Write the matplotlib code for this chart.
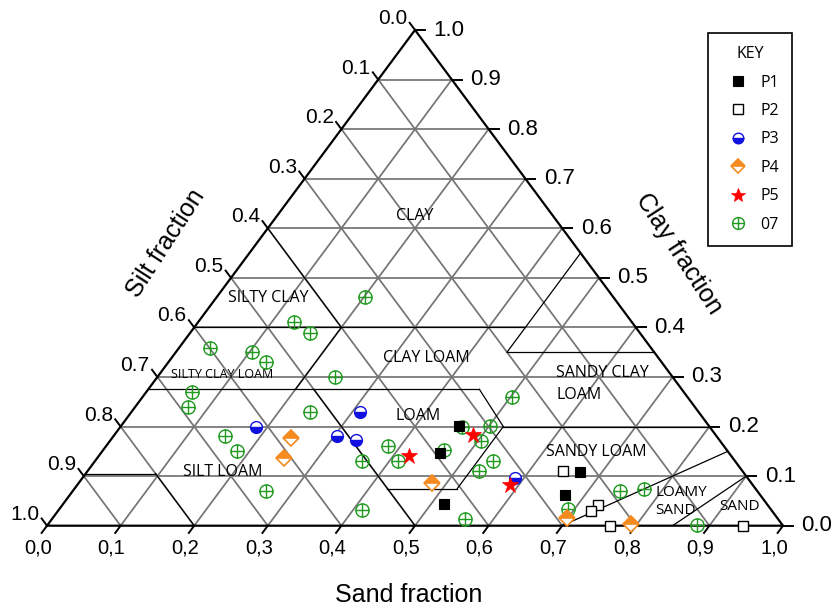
import numpy as np
import matplotlib
matplotlib.use("Agg")
import matplotlib.pyplot as plt
from matplotlib.path import Path
from matplotlib.lines import Line2D

# ---------------- data (sand fraction, clay fraction; silt = 1 - sand - clay) -------------
p1_sand = [0.459, 0.461, 0.518, 0.670, 0.673]
p1_clay = [0.201, 0.146, 0.044, 0.108, 0.061]

p2_sand = [0.646, 0.728, 0.724, 0.765, 0.946]
p2_clay = [0.110, 0.041, 0.030, 0.000, 0.000]

p3_sand = [0.184, 0.304, 0.334, 0.310, 0.588]
p3_clay = [0.200, 0.180, 0.173, 0.230, 0.096]

p4_sand = [0.243, 0.253, 0.480, 0.699, 0.791]
p4_clay = [0.176, 0.137, 0.087, 0.015, 0.004]

p5_sand = [0.421, 0.488, 0.588]
p5_clay = [0.141, 0.182, 0.082]

s07_sand = [0.202, 0.131, 0.164, 0.042, 0.103, 0.133, 0.242, 0.062, 0.072, 0.242,
            0.151, 0.182, 0.262, 0.383, 0.362, 0.412, 0.464, 0.502, 0.504, 0.502,
            0.463, 0.541, 0.532, 0.412, 0.562, 0.692, 0.744, 0.773, 0.882]
s07_clay = [0.461, 0.410, 0.388, 0.359, 0.350, 0.330, 0.299, 0.270, 0.240, 0.230,
            0.181, 0.151, 0.071, 0.161, 0.131, 0.131, 0.200, 0.201, 0.170, 0.259,
            0.153, 0.131, 0.110, 0.032, 0.013, 0.033, 0.069, 0.075, 0.001]

ticks = [round(0.1 * i, 1) for i in range(11)]
bottom_labels = [f"{t:.1f}".replace(".", ",") for t in ticks]
side_labels = [f"{t:.1f}" for t in ticks]

# texture class boundaries (sand, clay)
boundaries = [
    [(0.0, 0.40), (0.45, 0.40)],
    [(0.20, 0.40), (0.0, 0.60)],
    [(0.45, 0.35), (0.45, 0.55)],
    [(0.45, 0.35), (0.65, 0.35)],
    [(0.0, 0.275), (0.45, 0.275)],
    [(0.20, 0.275), (0.20, 0.40)],
    [(0.45, 0.275), (0.52, 0.20)],
    [(0.52, 0.20), (0.80, 0.20)],
    [(0.225, 0.275), (0.50, 0.0)],
    [(0.425, 0.075), (0.52, 0.075)],
    [(0.52, 0.075), (0.52, 0.20)],
    [(0.0, 0.105), (0.095, 0.105)],
    [(0.095, 0.105), (0.20, 0.0)],
    [(0.70, 0.0), (0.85, 0.15)],
    [(0.85, 0.0), (0.90, 0.10)],
]

# ---------------- geometry ----------------
W, H = 838, 609
X0, X1, YB, YT = 47.0, 783.0, 525.7, 30.0
PW, PH = X1 - X0, YB - YT


def tern(sand, clay):
    sand = np.asarray(sand, float)
    clay = np.asarray(clay, float)
    return sand + clay / 2.0, clay


def px(x, y):
    """pixel (from top-left) -> data coords"""
    return (x - X0) / PW, (YB - y) / PH


fig = plt.figure(figsize=(W / 100, H / 100), dpi=100)
ax = fig.add_axes([X0 / W, (H - YB) / H, PW / W, PH / H])
ax.set_xlim(0, 1)
ax.set_ylim(0, 1)
ax.axis("off")

grid_kw = dict(color="#747474", lw=1.25, zorder=1, solid_capstyle="butt")
for v in ticks[1:-1]:
    for a, b in [((0, v), (1 - v, v)), ((v, 0), (v, 1 - v)), ((1 - v, 0), (0, 1 - v))]:
        x, y = tern([a[0], b[0]], [a[1], b[1]])
        ax.plot(x, y, **grid_kw)

for seg in boundaries:
    x, y = tern([seg[0][0], seg[1][0]], [seg[0][1], seg[1][1]])
    ax.plot(x, y, color="black", lw=0.9, zorder=2)

# outline
ox, oy = tern([0, 1, 0, 0], [0, 0, 1, 0])
ax.plot(ox, oy, color="black", lw=1.6, zorder=3, solid_joinstyle="miter", clip_on=False)

# ticks and labels
ux, uy = 368.0 / np.hypot(368, 495.7), 495.7 / np.hypot(368, 495.7)
tick_fs_b, tick_fs_l, tick_fs_r = 14.5, 15, 16
tfont = "Liberation Sans"
for v, lb, ls in zip(ticks, bottom_labels, side_labels):
    # bottom (sand)
    bx, by = tern(v, 0)
    ax.plot([bx, bx - ux * 9 / PW], [by, by - uy * 9 / PH], color="black", lw=1.4,
            clip_on=False, zorder=3)
    ax.text(bx - 9 / PW, by - 22.5 / PH, lb, ha="center", va="center",
            fontsize=tick_fs_b, family=tfont)
    # right (clay)
    rx, ry = tern(1 - v, v)
    ax.plot([rx, rx + 10 / PW], [ry, ry], color="black", lw=1.4, clip_on=False, zorder=3)
    ax.text(rx + 18.5 / PW, ry, ls, ha="left", va="center", fontsize=tick_fs_r, family=tfont)
    # left (silt)
    lx, ly = tern(0, 1 - v)
    ax.plot([lx, lx - ux * 9 / PW], [ly, ly + uy * 9 / PH], color="black", lw=1.4,
            clip_on=False, zorder=3)
    ax.text(lx - ux * 13 / PW, ly + uy * 13 / PH + 1 / PH, ls, ha="right", va="center",
            fontsize=tick_fs_l, family=tfont)

# axis titles
ax.text(*px(409, 595), "Sand fraction", ha="center", va="center", fontsize=18, family=tfont)
ax.text(*px(166, 243), "Silt fraction", ha="center", va="center", fontsize=18,
        family=tfont, rotation=57, rotation_mode="anchor")
ax.text(*px(679, 254), "Clay fraction", ha="center", va="center", fontsize=18,
        family=tfont, rotation=-57, rotation_mode="anchor")

# region labels
rfont = "Open Sans"
region_labels = [
    ("CLAY", 415, 216, "center", 11.5),
    ("SILTY CLAY", 268, 298, "center", 11.5),
    ("SILTY CLAY LOAM", 222.5, 375, "center", 9),
    ("CLAY LOAM", 426, 358, "center", 11.5),
    ("LOAM", 418, 416, "center", 11.5),
    ("SANDY CLAY", 556, 373, "left", 11.5),
    ("LOAM", 556, 395, "left", 11.5),
    ("SANDY LOAM", 596.5, 452, "center", 11.5),
    ("LOAMY", 655, 492, "left", 11),
    ("SAND", 655, 510, "left", 11),
    ("SAND", 739, 507, "center", 11),
    ("SILT LOAM", 223, 472, "center", 11.5),
]
for t, x, y, ha, fs in region_labels:
    ax.text(*px(x, y), t, ha=ha, va="center", fontsize=fs, family=rfont, zorder=4)

# ---------------- data markers ----------------
cross = Path([[-1, 0], [1, 0], [0, -1], [0, 1]],
             [Path.MOVETO, Path.LINETO, Path.MOVETO, Path.LINETO])
oplus = Path.make_compound_path(Path.unit_circle(), cross)

orange = "#f58a1f"
blue = "#1010e0"
green = "#1f9a1f"

styles = [
    ("P1", p1_sand, p1_clay, dict(marker="s", ms=7.5, mfc="black", mec="black", mew=0.8)),
    ("P2", p2_sand, p2_clay, dict(marker="s", ms=7.5, mfc="white", mec="black", mew=1.0)),
    ("P3", p3_sand, p3_clay, dict(marker="o", ms=8.5, fillstyle="bottom", mfc=blue,
                                   markerfacecoloralt="white", mec=blue, mew=1.0)),
    ("P4", p4_sand, p4_clay, dict(marker="D", ms=8, fillstyle="top", mfc=orange,
                                   markerfacecoloralt="white", mec=orange, mew=1.2)),
    ("P5", p5_sand, p5_clay, dict(marker="*", ms=12, mfc="red", mec="red", mew=0.5)),
    ("07", s07_sand, s07_clay, dict(marker=oplus, ms=9.5, mfc="none", mec=green, mew=1.0)),
]
order_z = {"07": 5, "P1": 6, "P2": 6, "P3": 6, "P4": 6, "P5": 7}
handles = []
for name, s, c, kw in styles:
    x, y = tern(s, c)
    ax.plot(x, y, ls="none", zorder=order_z[name], clip_on=False, **kw)
    lkw = dict(kw)
    lkw["ms"] = kw["ms"] * 0.9
    handles.append(Line2D([], [], ls="none", label=name, **lkw))

leg = fig.legend(handles=handles, title="KEY", loc="upper left",
                 bbox_to_anchor=(708 / W, 1 - 33.3 / H), frameon=True, fancybox=False,
                 edgecolor="black", framealpha=1, borderpad=0.8, handlelength=2.2,
                 handletextpad=0.3, labelspacing=0.78, borderaxespad=0,
                 prop={"family": rfont, "size": 11.5},
                 title_fontproperties={"family": rfont, "size": 11.5})
leg.get_frame().set_linewidth(1.2)

fig.savefig("out.png", dpi=100)
